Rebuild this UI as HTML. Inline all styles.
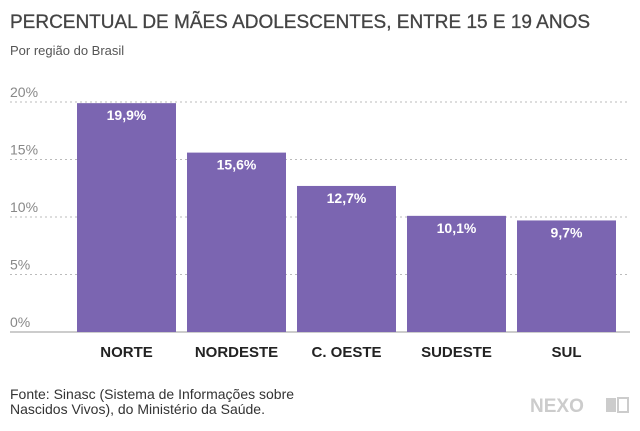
<!DOCTYPE html>
<html><head><meta charset="utf-8"><style>
body{margin:0;background:#fff;width:640px;height:426px;overflow:hidden;font-family:"Liberation Sans",sans-serif}
</style></head><body>
<svg width="640" height="426" xmlns="http://www.w3.org/2000/svg">
<text x="10" y="28" font-size="19" fill="#444" stroke="#444" stroke-width="0.3" font-family="Liberation Sans">PERCENTUAL DE MÃES ADOLESCENTES, ENTRE 15 E 19 ANOS</text>
<text x="10" y="55" font-size="13" fill="#555">Por região do Brasil</text>
<g id="grid"></g><g id="bars"></g>
<text x="10" y="399" font-size="14" fill="#333">Fonte: Sinasc (Sistema de Informações sobre</text>
<text x="10" y="414" font-size="14" fill="#333">Nascidos Vivos), do Ministério da Saúde.</text>
<text x="530" y="412" font-size="19" font-weight="bold" fill="#ccc">NEXO</text>
<rect x="606" y="398" width="10" height="14" fill="#ccc"/>
<rect x="618" y="398" width="10" height="14" fill="none" stroke="#ccc" stroke-width="2"/>
</svg>
<script>
const categories=["NORTE","NORDESTE","C. OESTE","SUDESTE","SUL"];
const values=[19.9,15.6,12.7,10.1,9.7];
const ticks=[0,5,10,15,20];
const NS="http://www.w3.org/2000/svg";
const y0=332,k=11.5;
const y=v=>y0-v*k;
const x=i=>77+i*110;
function mk(t,a,p,txt){const e=document.createElementNS(NS,t);for(const n in a)e.setAttribute(n,a[n]);if(txt!=null)e.textContent=txt;p.appendChild(e);return e;}
const g=document.getElementById('grid'),b=document.getElementById('bars');
ticks.forEach(t=>{
 const l=mk('line',{x1:10,x2:630,y1:y(t),y2:y(t),stroke:t===0?'#999':'#bbb','stroke-dasharray':t===0?'':'2,3','stroke-width':1},g);
 
 
 const tx=mk('text',{x:10,y:y(t)-5,'font-size':14,fill:'#888'},g,t+'%');
 
 
});
values.forEach((v,i)=>{
 const r=mk('rect',{x:x(i),y:y(v),width:99,height:y0-y(v),fill:'#7b65b1'},b);
 
 
 const vl=mk('text',{x:x(i)+49.5,y:y(v)+17,'font-size':14,'font-weight':'bold',fill:'#fff','text-anchor':'middle'},b,v.toString().replace('.',',')+'%');
 
 
 const cl=mk('text',{x:x(i)+49.5,y:357,'font-size':15,'font-weight':'bold',fill:'#222','text-anchor':'middle'},b,categories[i]);
 
 
});
</script>
</body></html>
